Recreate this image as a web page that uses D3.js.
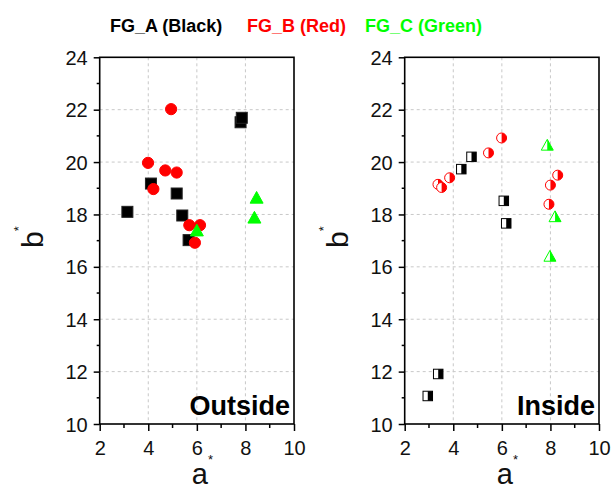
<!DOCTYPE html>
<html>
<head>
<meta charset="utf-8">
<script src="https://cdn.jsdelivr.net/npm/d3@7"></script>
<style>
  body { margin: 0; background: #fff; }
  svg { font-family: "Liberation Sans", Arial, sans-serif; }
</style>
</head>
<body>
<svg id="chart" width="612" height="490"></svg>
<script>
// Outside panel (solid markers), [a*, b*]
const outsideA = [[3.14, 18.1], [4.11, 19.18], [5.17, 18.8], [5.4, 17.96], [5.66, 17.02], [7.8, 21.52], [7.85, 21.69]];
const outsideB = [[4.94, 22.02], [3.99, 19.97], [4.7, 19.68], [5.17, 19.6], [4.21, 18.97], [5.69, 17.59], [6.13, 17.59], [5.92, 16.92]];
const outsideC = [[8.46, 18.61], [8.37, 17.85], [6.0, 17.36]];
// Inside panel (half filled markers)
const insideA = [[4.75, 20.2], [4.33, 19.73], [6.08, 18.52], [6.18, 17.66], [3.38, 11.91], [2.95, 11.07]];
const insideB = [[5.99, 20.92], [5.45, 20.35], [3.85, 19.4], [3.37, 19.15], [3.52, 19.03], [8.3, 19.5], [8.0, 19.12], [7.94, 18.39]];
const insideC = [[7.87, 20.62], [8.19, 17.89], [7.98, 16.38]];

const xTicks = [2, 4, 6, 8, 10];
const yTicks = [10, 12, 14, 16, 18, 20, 22, 24];
const legendLabels = ['FG_A (Black)', 'FG_B (Red)', 'FG_C (Green)'];
const legendColors = ['#000000', '#ff0000', '#00ff00'];

const svg = d3.select('#chart');
const plotTop = 57.3, plotBottom = 424;

// legend along the top
const legX = [110, 247, 365];
legendLabels.forEach((t, i) => {
  svg.append('text')
    .attr('x', legX[i]).attr('y', 32)
    .attr('font-size', 18).attr('font-weight', 'bold')
    .attr('fill', legendColors[i])
    .text(t);
});

function drawPanel(left, right, label, sets, half) {
  const x = d3.scaleLinear().domain([2, 10]).range([left, right]);
  const y = d3.scaleLinear().domain([10, 24]).range([plotBottom, plotTop]);
  const g = svg.append('g');

  // dashed grid
  g.selectAll('.gx').data([4, 6, 8]).join('line')
    .attr('x1', d => x(d)).attr('x2', d => x(d))
    .attr('y1', plotTop).attr('y2', plotBottom)
    .attr('stroke', '#c8c8c8').attr('stroke-dasharray', '3,3');
  g.selectAll('.gy').data(yTicks.slice(1, -1)).join('line')
    .attr('x1', left).attr('x2', right)
    .attr('y1', d => y(d)).attr('y2', d => y(d))
    .attr('stroke', '#c8c8c8').attr('stroke-dasharray', '3,3');

  // axes
  const xAx = d3.axisBottom(x).tickValues(xTicks).tickSize(7).tickSizeOuter(0);
  const yAx = d3.axisLeft(y).tickValues(yTicks).tickSize(6).tickSizeOuter(0);
  const gx = g.append('g').attr('transform', `translate(0,${plotBottom})`).call(xAx);
  const gy = g.append('g').attr('transform', `translate(${left},0)`).call(yAx);
  gx.selectAll('text').attr('font-size', 20).attr('dy', 0).attr('y', 31).attr('fill', '#111');
  gy.selectAll('text').attr('font-size', 20).attr('x', -12).attr('dy', '0.35em').attr('fill', '#111');
  [gx, gy].forEach(a => {
    a.select('.domain').remove();
    a.selectAll('.tick line').attr('stroke-width', 1.5).attr('stroke', '#000');
  });
  // minor ticks
  g.selectAll('.mx').data([3, 5, 7, 9]).join('line')
    .attr('x1', d => x(d)).attr('x2', d => x(d))
    .attr('y1', plotBottom).attr('y2', plotBottom + 4)
    .attr('stroke', '#000').attr('stroke-width', 1.5);
  g.selectAll('.my').data([11, 13, 15, 17, 19, 21, 23]).join('line')
    .attr('x1', left - 3).attr('x2', left)
    .attr('y1', d => y(d)).attr('y2', d => y(d))
    .attr('stroke', '#000').attr('stroke-width', 1.5);

  // frame
  g.append('rect')
    .attr('x', left).attr('y', plotTop)
    .attr('width', right - left).attr('height', plotBottom - plotTop)
    .attr('fill', 'none').attr('stroke', '#000').attr('stroke-width', 1.6);

  // axis titles
  const ax = (left + right) / 2 - 5;
  const at = g.append('text').attr('x', ax).attr('y', 484).attr('font-size', 29).attr('fill', '#111');
  at.append('tspan').text('a');
  at.append('tspan').attr('font-size', 13).attr('dy', -20).text('*');
  const bt = g.append('text')
    .attr('transform', `translate(${left - 57},248) rotate(-90)`)
    .attr('font-size', 30).attr('fill', '#111');
  bt.append('tspan').text('b');
  bt.append('tspan').attr('font-size', 13).attr('dy', -20).text('*');

  // panel label
  g.append('text')
    .attr('x', right - 4).attr('y', 415)
    .attr('text-anchor', 'end')
    .attr('font-size', 27).attr('font-weight', 'bold')
    .text(label);

  const [A, B, C] = sets;
  const sq = half ? 9.5 : 11;
  const r = half ? 5 : 5.6;
  const tri = half ? 12 : 13;

  // squares
  A.forEach(d => {
    const cx = x(d[0]), cy = y(d[1]);
    g.append('rect')
      .attr('x', cx - sq / 2).attr('y', cy - sq / 2)
      .attr('width', sq).attr('height', sq)
      .attr('fill', half ? '#fff' : '#000')
      .attr('stroke', half ? '#000' : '#222').attr('stroke-width', 1);
    if (half) {
      g.append('rect')
        .attr('x', cx).attr('y', cy - sq / 2)
        .attr('width', sq / 2).attr('height', sq)
        .attr('fill', '#000');
    }
  });
  // circles
  B.forEach(d => {
    const cx = x(d[0]), cy = y(d[1]);
    g.append('circle')
      .attr('cx', cx).attr('cy', cy).attr('r', r)
      .attr('fill', half ? '#fff' : '#ff0000')
      .attr('stroke', '#ff0000').attr('stroke-width', 1);
    if (half) {
      g.append('path')
        .attr('d', `M${cx},${cy - r}A${r},${r} 0 0 1 ${cx},${cy + r}Z`)
        .attr('fill', '#ff0000');
    }
  });
  // triangles
  C.forEach(d => {
    const cx = x(d[0]), cy = y(d[1]);
    const h = tri * 0.9;
    const p = [[cx, cy - h * 0.6], [cx + tri / 2, cy + h * 0.4], [cx - tri / 2, cy + h * 0.4]];
    g.append('path')
      .attr('d', 'M' + p.map(q => q.join(',')).join('L') + 'Z')
      .attr('fill', half ? '#fff' : '#00ff00')
      .attr('stroke', '#00ff00').attr('stroke-width', 1);
    if (half) {
      g.append('path')
        .attr('d', `M${p[0]}L${p[1]}L${cx},${p[1][1]}Z`)
        .attr('fill', '#00ff00');
    }
  });
}

drawPanel(99.7, 294, 'Outside', [outsideA, outsideB, outsideC], false);
drawPanel(404.7, 599, 'Inside', [insideA, insideB, insideC], true);
</script>
</body>
</html>
